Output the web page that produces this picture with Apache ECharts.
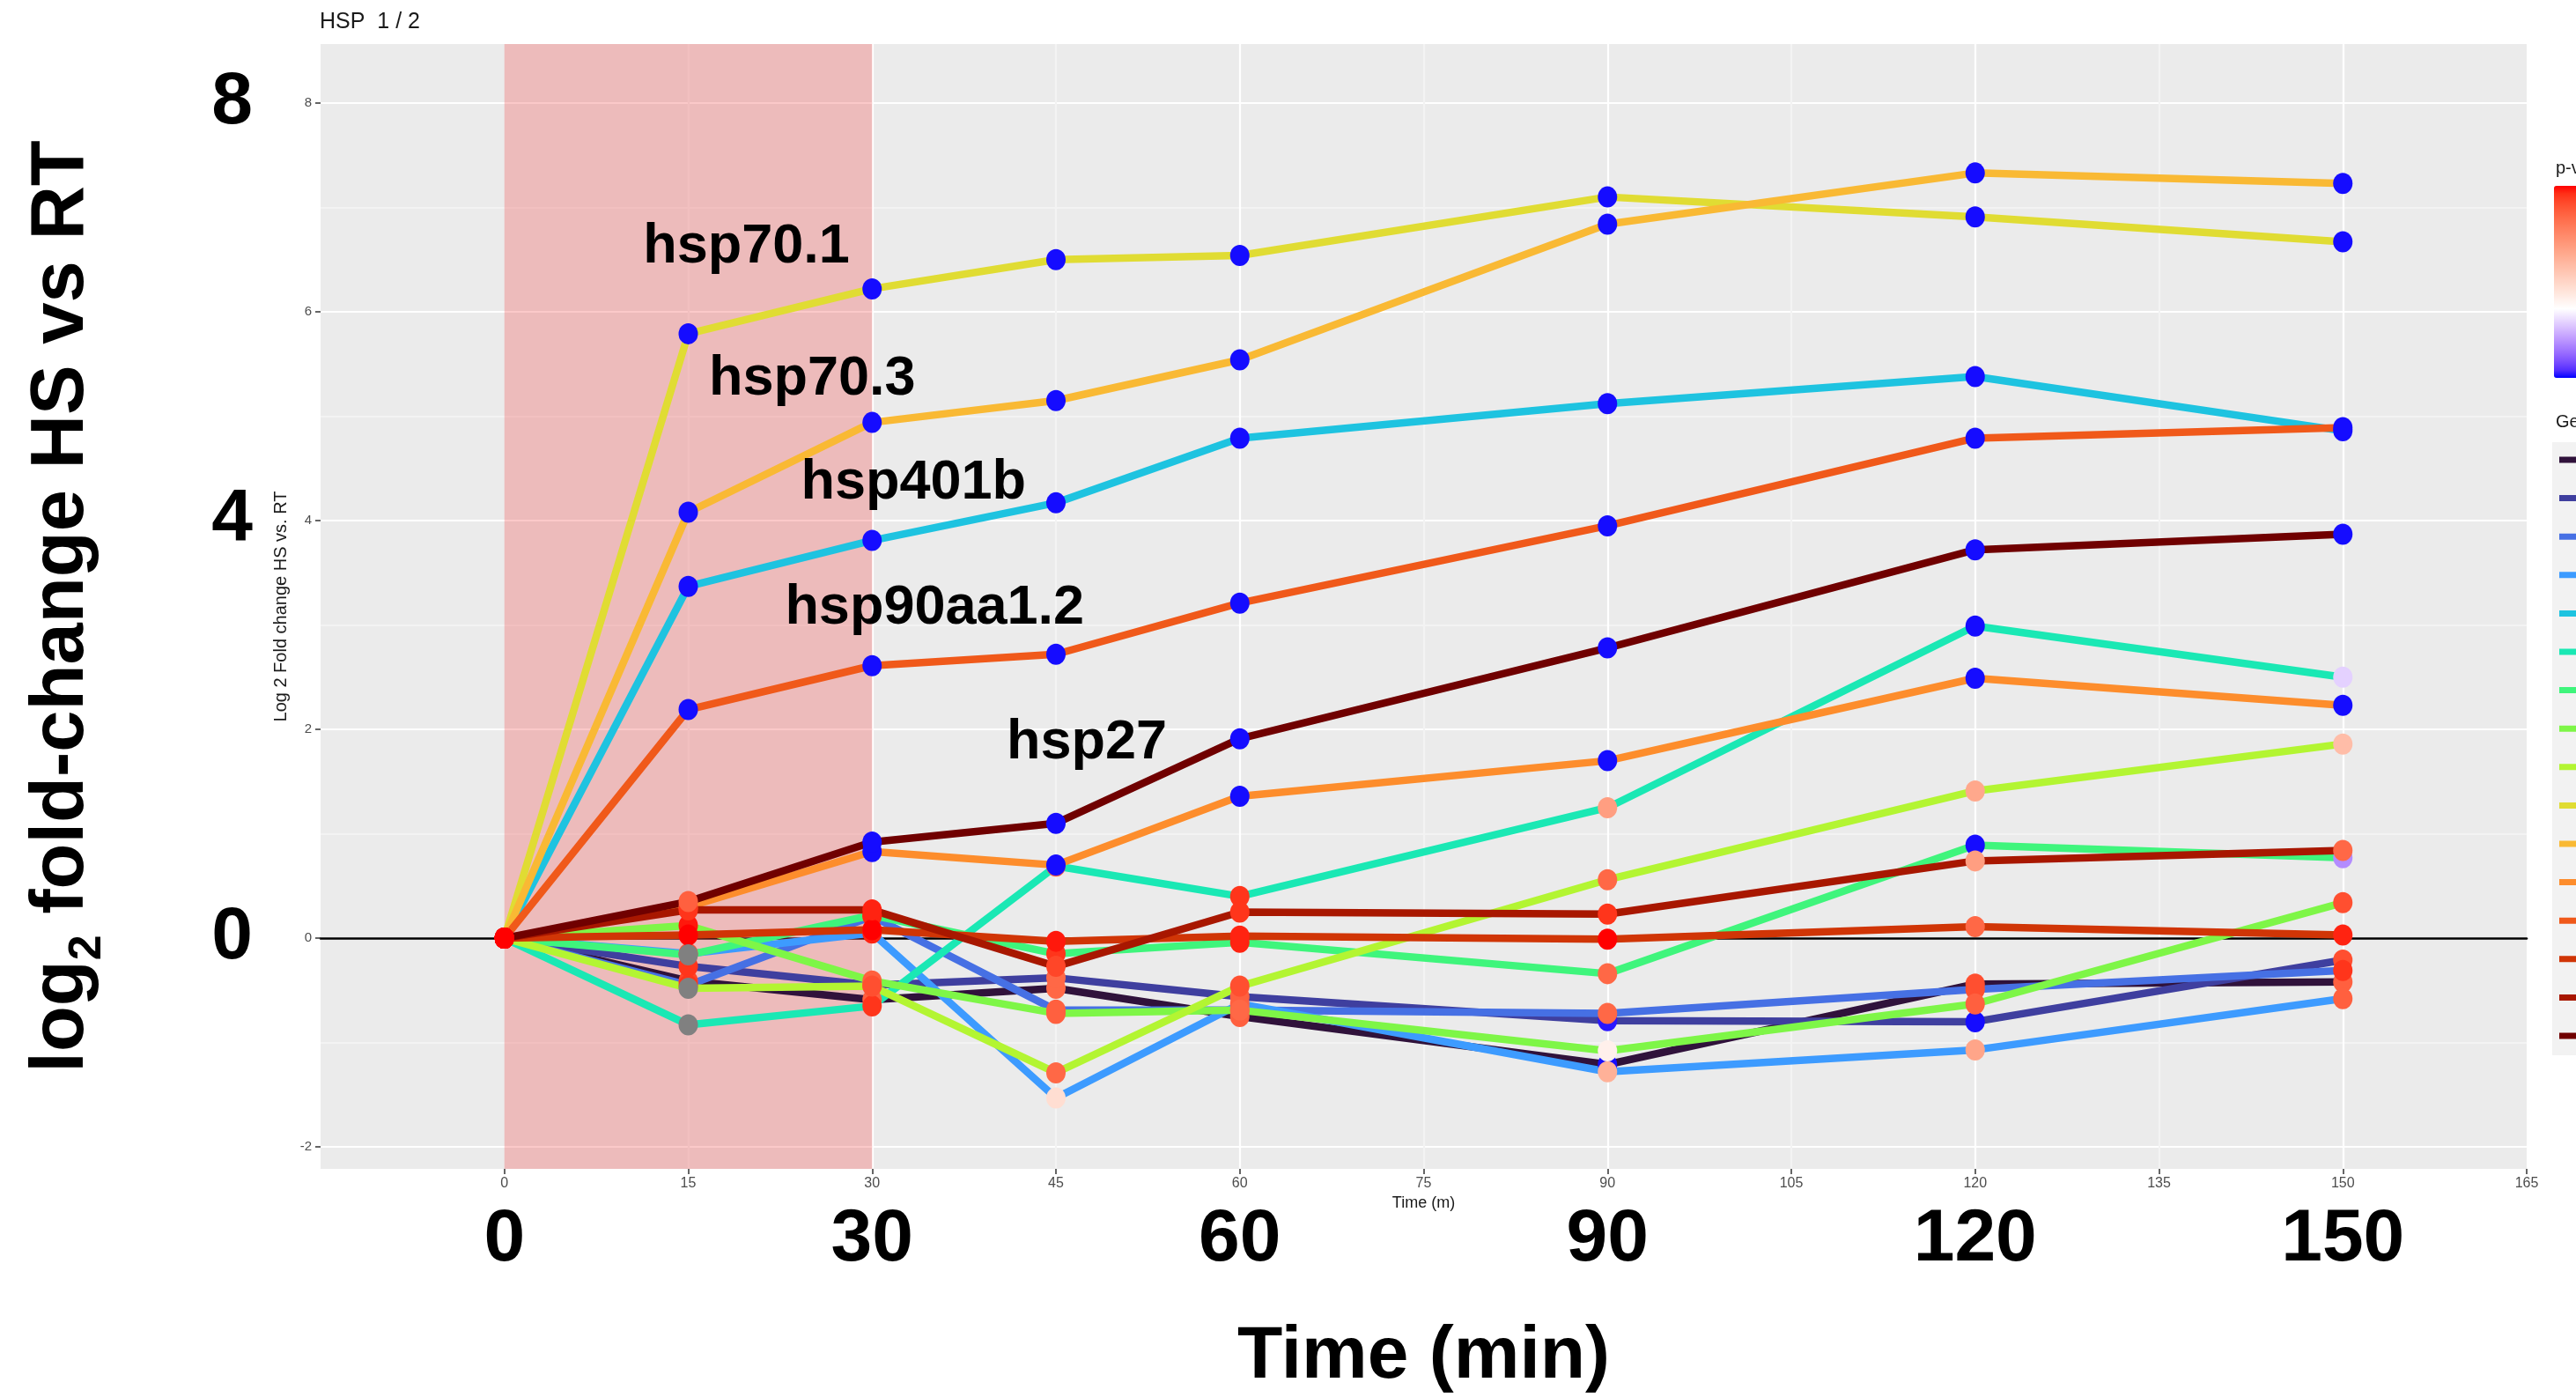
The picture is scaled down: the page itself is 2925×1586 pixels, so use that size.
<!DOCTYPE html>
<html>
<head>
<meta charset="utf-8">
<script src="https://cdn.jsdelivr.net/npm/echarts@6/dist/echarts.min.js"></script>
<style>
html,body{margin:0;padding:0;background:#ffffff;}
#chart{width:2925px;height:1586px;}
</style>
</head>
<body>
<div id="chart"></div>
<script>
// ---------------- data ----------------
const timeMin = [0, 15, 30, 45, 60, 90, 120, 150];
const heatShockWindow = [0, 30];

const geneNames = ['gene 01', 'gene 02', 'gene 03', 'gene 04', 'hsp401b', 'gene 06', 'gene 07', 'gene 08',
                   'gene 09', 'hsp70.1', 'hsp70.3', 'gene 12', 'hsp90aa1.2', 'gene 14', 'gene 15', 'hsp27'];

// log2 fold-change HS vs RT per gene
const fc01 = [0, -0.41, -0.59, -0.48, -0.75, -1.21, -0.44, -0.42];
const fc02 = [0, -0.27, -0.45, -0.38, -0.56, -0.79, -0.80, -0.21];
const fc03 = [0, -0.45, 0.21, -0.69, -0.69, -0.72, -0.49, -0.31];
const fc04 = [0, -0.15, 0.05, -1.53, -0.63, -1.28, -1.07, -0.58];
const fc05 = [0, 3.37, 3.81, 4.17, 4.79, 5.12, 5.38, 4.86];
const fc06 = [0, -0.83, -0.65, 0.69, 0.40, 1.25, 2.99, 2.50];
const fc07 = [0, -0.16, 0.22, -0.15, -0.04, -0.34, 0.89, 0.77];
const fc08 = [0, 0.12, -0.41, -0.72, -0.69, -1.08, -0.63, 0.34];
const fc09 = [0, -0.48, -0.46, -1.29, -0.46, 0.56, 1.41, 1.86];
const fc10 = [0, 5.79, 6.22, 6.50, 6.54, 7.10, 6.91, 6.67];
const fc11 = [0, 4.08, 4.94, 5.15, 5.54, 6.84, 7.33, 7.23];
const fc12 = [0, 0.30, 0.83, 0.70, 1.36, 1.70, 2.49, 2.23];
const fc13 = [0, 2.19, 2.61, 2.72, 3.21, 3.95, 4.79, 4.89];
const fc14 = [0, 0.03, 0.08, -0.03, 0.02, -0.01, 0.11, 0.03];
const fc15 = [0, 0.27, 0.27, -0.27, 0.25, 0.23, 0.74, 0.84];
const fc16 = [0, 0.35, 0.92, 1.10, 1.91, 2.78, 3.72, 3.87];

// p-values (null = not available)
const pv01 = [1, 0.92, 0.86, 0.84, 0.86, 0.01, 0.90, 0.86];
const pv02 = [1, 0.95, 0.90, 0.84, 0.86, 0.02, 0.01, 0.90];
const pv03 = [1, 0.95, 0.95, 0.86, 0.86, 0.84, 0.90, 0.95];
const pv04 = [1, 0.90, 0.97, 0.47, 0.86, 0.62, 0.66, 0.86];
const pv05 = [1, 0.01, 0.01, 0.01, 0.01, 0.01, 0.01, 0.01];
const pv06 = [1, null, 0.95, 0.86, 0.95, 0.68, 0.01, 0.29];
const pv07 = [1, null, 0.97, 0.95, 0.97, 0.84, 0.01, 0.18];
const pv08 = [1, 0.98, 0.86, 0.86, 0.84, 0.41, 0.86, 0.90];
const pv09 = [1, null, 0.90, 0.84, 0.90, 0.84, 0.65, 0.58];
const pv10 = [1, 0.01, 0.01, 0.01, 0.01, 0.01, 0.01, 0.01];
const pv11 = [1, 0.01, 0.01, 0.01, 0.01, 0.01, 0.01, 0.01];
const pv12 = [1, 0.86, 0.01, 0.01, 0.01, 0.01, 0.01, 0.01];
const pv13 = [1, 0.01, 0.01, 0.01, 0.01, 0.01, 0.01, 0.01];
const pv14 = [1, 1.00, 1.00, 0.98, 0.97, 1.00, 0.84, 0.97];
const pv15 = [1, 0.95, 0.97, 0.92, 0.95, 0.95, 0.68, 0.84];
const pv16 = [1, 0.86, 0.01, 0.01, 0.01, 0.01, 0.01, 0.01];

// axis ticks / labels
const xSmallTicks = [0, 15, 30, 45, 60, 75, 90, 105, 120, 135, 150, 165];
const xBigTicks = [0, 30, 60, 90, 120, 150];
const ySmallTicks = [-2, 0, 2, 4, 6, 8];
const yBigTicks = [0, 4, 8];

// labelled genes and the time point each label hangs from
const labelGenes = ['hsp70.1', 'hsp70.3', 'hsp401b', 'hsp90aa1.2', 'hsp27'];
const labelTimes = [15, 30, 30, 30, 45];

// ---------------- styles / layout ----------------
const FONT = "'Liberation Sans', Arial, Helvetica, sans-serif";
const geneColors = ['#30123b', '#3f3f9f', '#4670e4', '#3d9bff', '#1ec3e0', '#1ae8b4', '#3ff57c', '#7ef647',
                    '#b3f532', '#e0dc33', '#f9b934', '#fd8d2c', '#f0591a', '#d03506', '#a81700', '#700000'];
const labelOffsets = {
  'hsp70.1': [66, -98], 'hsp70.3': [-68, -49], 'hsp401b': [47, -65],
  'hsp90aa1.2': [71, -65], 'hsp27': [35, -91]
};
const NA_COLOR = '#808080';
const ELLIPSE = 'path://M0,50 A50,50 0 1,1 100,50 A50,50 0 1,1 0,50 Z';
const YMIN = -2.21, YMAX = 8.565, XMIN = -15, XMAX = 165;
const GRID = {left: 364, top: 50, width: 2505, height: 1277};

const fcAll = [fc01, fc02, fc03, fc04, fc05, fc06, fc07, fc08, fc09, fc10, fc11, fc12, fc13, fc14, fc15, fc16];
const pvAll = [pv01, pv02, pv03, pv04, pv05, pv06, pv07, pv08, pv09, pv10, pv11, pv12, pv13, pv14, pv15, pv16];

// Lab-space gradient (blue - white - red) like ggplot's gradient2
function hex2rgb(h){h=h.replace('#','');return [0,2,4].map(i=>parseInt(h.substr(i,2),16));}
function lin(c){c/=255;return c<=0.04045?c/12.92:Math.pow((c+0.055)/1.055,2.4);}
function unlin(c){const v=c<=0.0031308?12.92*c:1.055*Math.pow(c,1/2.4)-0.055;return Math.max(0,Math.min(255,Math.round(v*255)));}
const WN=[0.95047,1,1.08883];
function ff(t){return t>0.008856?Math.cbrt(t):7.787*t+16/116;}
function finv(t){const t3=t*t*t;return t3>0.008856?t3:(t-16/116)/7.787;}
function rgb2lab(rgb){const [r,g,b]=rgb.map(lin);
  const X=(0.4124*r+0.3576*g+0.1805*b)/WN[0],Y=(0.2126*r+0.7152*g+0.0722*b)/WN[1],Z=(0.0193*r+0.1192*g+0.9505*b)/WN[2];
  const fx=ff(X),fy=ff(Y),fz=ff(Z);return [116*fy-16,500*(fx-fy),200*(fy-fz)];}
function lab2hex(lab){const fy=(lab[0]+16)/116,fx=fy+lab[1]/500,fz=fy-lab[2]/200;
  const X=WN[0]*finv(fx),Y=WN[1]*finv(fy),Z=WN[2]*finv(fz);
  const r=3.2406*X-1.5372*Y-0.4986*Z,g=-0.9689*X+1.8758*Y+0.0415*Z,b=0.0557*X-0.2040*Y+1.0570*Z;
  return '#'+[r,g,b].map(c=>unlin(c).toString(16).padStart(2,'0')).join('');}
function mixLab(a,b,s){const A=rgb2lab(hex2rgb(a)),B=rgb2lab(hex2rgb(b));return lab2hex(A.map((v,i)=>v+(B[i]-v)*s));}
const PMID = 0.36, NSTOP = 26;
const pStops = [];
for (let k = 0; k < NSTOP; k++) {
  const p = k/(NSTOP-1);
  pStops.push(p <= PMID ? mixLab('#ffffff', '#0000ff', (PMID-p)/PMID) : mixLab('#ffffff', '#ff0000', (p-PMID)/(1-PMID)));
}

const inList = (list) => (v) => list.some(x => Math.abs(x - v) < 1e-6) ? String(v) : '';

// ---------------- series ----------------
const series = [];
// heat-shock window
series.push({
  type: 'line', data: [[heatShockWindow[0], 0]], showSymbol: false, symbol: 'none', silent: true,
  lineStyle: {width: 0}, z: 1,
  markArea: {silent: true, itemStyle: {color: 'rgba(242,75,75,0.30)'},
    data: [[{xAxis: heatShockWindow[0]}, {xAxis: heatShockWindow[1]}]]}
});
// gene lines
geneNames.forEach((name, g) => {
  series.push({
    name: name, type: 'line', z: 3, silent: true,
    data: timeMin.map((t, i) => [t, fcAll[g][i]]),
    showSymbol: false, symbol: 'none',
    lineStyle: {color: geneColors[g], width: 8.5, cap: 'round', join: 'round'},
    itemStyle: {color: geneColors[g]}
  });
});
// points coloured by p-value; points without a p-value are grey
const pointData = [], naData = [];
geneNames.forEach((name, g) => {
  timeMin.forEach((t, i) => {
    const p = pvAll[g][i];
    if (p === null) naData.push([t, fcAll[g][i]]);
    else pointData.push([t, fcAll[g][i], p]);
  });
});
const scatterIndex = series.length;
series.push({
  type: 'scatter', z: 4, silent: true, symbol: ELLIPSE, symbolSize: [22, 24],
  itemStyle: {opacity: 1}, data: pointData
});
series.push({
  type: 'scatter', z: 4, silent: true, symbol: ELLIPSE, symbolSize: [22, 24],
  itemStyle: {opacity: 1, color: NA_COLOR}, data: naData
});
// gene name labels
series.push({
  type: 'scatter', z: 6, silent: true, symbolSize: 0,
  itemStyle: {opacity: 1},
  data: labelGenes.map((name, k) => {
    const g = geneNames.indexOf(name);
    const i = timeMin.indexOf(labelTimes[k]);
    return {
      value: [labelTimes[k], fcAll[g][i]],
      label: {show: true, position: 'inside', offset: labelOffsets[name], formatter: name,
        fontSize: 63, fontWeight: 'bold', color: '#000000', opacity: 1, textBorderWidth: 0, fontFamily: FONT}
    };
  })
});

const option = {
  animation: false,
  backgroundColor: '#ffffff',
  textStyle: {fontFamily: FONT},
  title: [
    {text: 'HSP  1 / 2', left: 363, top: 13, padding: 0,
     textStyle: {fontSize: 25, fontWeight: 'normal', color: '#1a1a1a', fontFamily: FONT}},
    {text: 'p-value', left: 2902, top: 181, padding: 0,
     textStyle: {fontSize: 20, fontWeight: 'normal', color: '#1a1a1a', fontFamily: FONT}},
    {text: 'Gene', left: 2902, top: 469, padding: 0,
     textStyle: {fontSize: 20, fontWeight: 'normal', color: '#1a1a1a', fontFamily: FONT}}
  ],
  grid: {left: GRID.left, top: GRID.top, width: GRID.width, height: GRID.height,
         show: true, backgroundColor: '#ebebeb', borderWidth: 0, containLabel: false, outerBoundsMode: 'none'},
  legend: {
    orient: 'vertical', left: 2898, top: 502, padding: [14, 40, 16, 8],
    backgroundColor: '#f2f2f2', itemWidth: 40, itemHeight: 7, itemGap: 31.6, icon: 'rect',
    selectedMode: false, data: geneNames,
    textStyle: {fontSize: 12, lineHeight: 12, color: '#1a1a1a', fontFamily: FONT}
  },
  visualMap: {
    type: 'continuous', min: 0, max: 1, dimension: 2, seriesIndex: scatterIndex,
    inRange: {color: pStops},
    left: 2900, top: 211, itemWidth: 40, itemHeight: 218, padding: 0,
    calculable: false, hoverLink: false, text: null
  },
  xAxis: [
    {type: 'value', min: XMIN, max: XMAX, interval: 7.5, position: 'bottom',
     axisLine: {show: false, onZero: false},
     axisTick: {show: true, customValues: xSmallTicks, length: 6, lineStyle: {color: '#333333', width: 1.5}},
     axisLabel: {show: true, customValues: xSmallTicks, formatter: inList(xSmallTicks),
                 fontSize: 16, color: '#4d4d4d', margin: 9, fontFamily: FONT},
     splitLine: {show: true, showMinLine: false, showMaxLine: false,
                 lineStyle: {color: ['#f3f3f3', '#ffffff'], width: 2.2}},
     name: 'Time (m)', nameLocation: 'middle', nameGap: 29,
     nameTextStyle: {fontSize: 18, color: '#1a1a1a', fontFamily: FONT}},
    {type: 'value', min: XMIN, max: XMAX, interval: 15, position: 'bottom',
     axisLine: {show: false, onZero: false}, axisTick: {show: false}, splitLine: {show: false},
     axisLabel: {show: true, customValues: xBigTicks, formatter: inList(xBigTicks),
                 fontSize: 84, fontWeight: 'bold', color: '#000', margin: 39, fontFamily: FONT},
     name: 'Time (min)', nameLocation: 'middle', nameGap: 172,
     nameTextStyle: {fontSize: 84, fontWeight: 'bold', color: '#000', fontFamily: FONT}},
    {type: 'value', min: XMIN, max: XMAX, position: 'bottom',
     axisLine: {show: true, onZero: true, onZeroAxisIndex: 0, lineStyle: {color: '#000000', width: 2.5}},
     axisTick: {show: false}, axisLabel: {show: false}, splitLine: {show: false}}
  ],
  yAxis: [
    {type: 'value', min: YMIN, max: YMAX, splitNumber: 10, position: 'left',
     axisLine: {show: false, onZero: false}, axisTick: {show: false},
     axisLabel: {show: true, customValues: yBigTicks, formatter: inList(yBigTicks),
                 fontSize: 84, fontWeight: 'bold', color: '#000', margin: 77, fontFamily: FONT},
     splitLine: {show: true, showMinLine: false, showMaxLine: false,
                 lineStyle: {color: ['#ffffff', '#f3f3f3'], width: 2.2}},
     name: '{a|log}{s|2}{a| fold-change HS vs RT}', nameLocation: 'middle', nameRotate: 90, nameGap: 238,
     nameTextStyle: {rich: {
       a: {fontSize: 85, fontWeight: 'bold', color: '#000', lineHeight: 110, fontFamily: FONT},
       s: {fontSize: 52, fontWeight: 'bold', color: '#000', verticalAlign: 'bottom', fontFamily: FONT}
     }}},
    {type: 'value', min: YMIN, max: YMAX, position: 'left',
     axisLine: {show: false, onZero: false},
     axisTick: {show: true, customValues: ySmallTicks, length: 6, lineStyle: {color: '#333333', width: 1.5}},
     axisLabel: {show: true, customValues: ySmallTicks, formatter: inList(ySmallTicks),
                 fontSize: 15, color: '#4d4d4d', margin: 10, fontFamily: FONT},
     splitLine: {show: false},
     name: 'Log 2 Fold change HS vs. RT', nameLocation: 'middle', nameRotate: 90, nameGap: 31,
     nameTextStyle: {fontSize: 20, color: '#1a1a1a', fontFamily: FONT}}
  ],
  series: series
};

const chart = echarts.init(document.getElementById('chart'), null, {renderer: 'canvas'});
chart.setOption(option);
</script>
</body>
</html>
